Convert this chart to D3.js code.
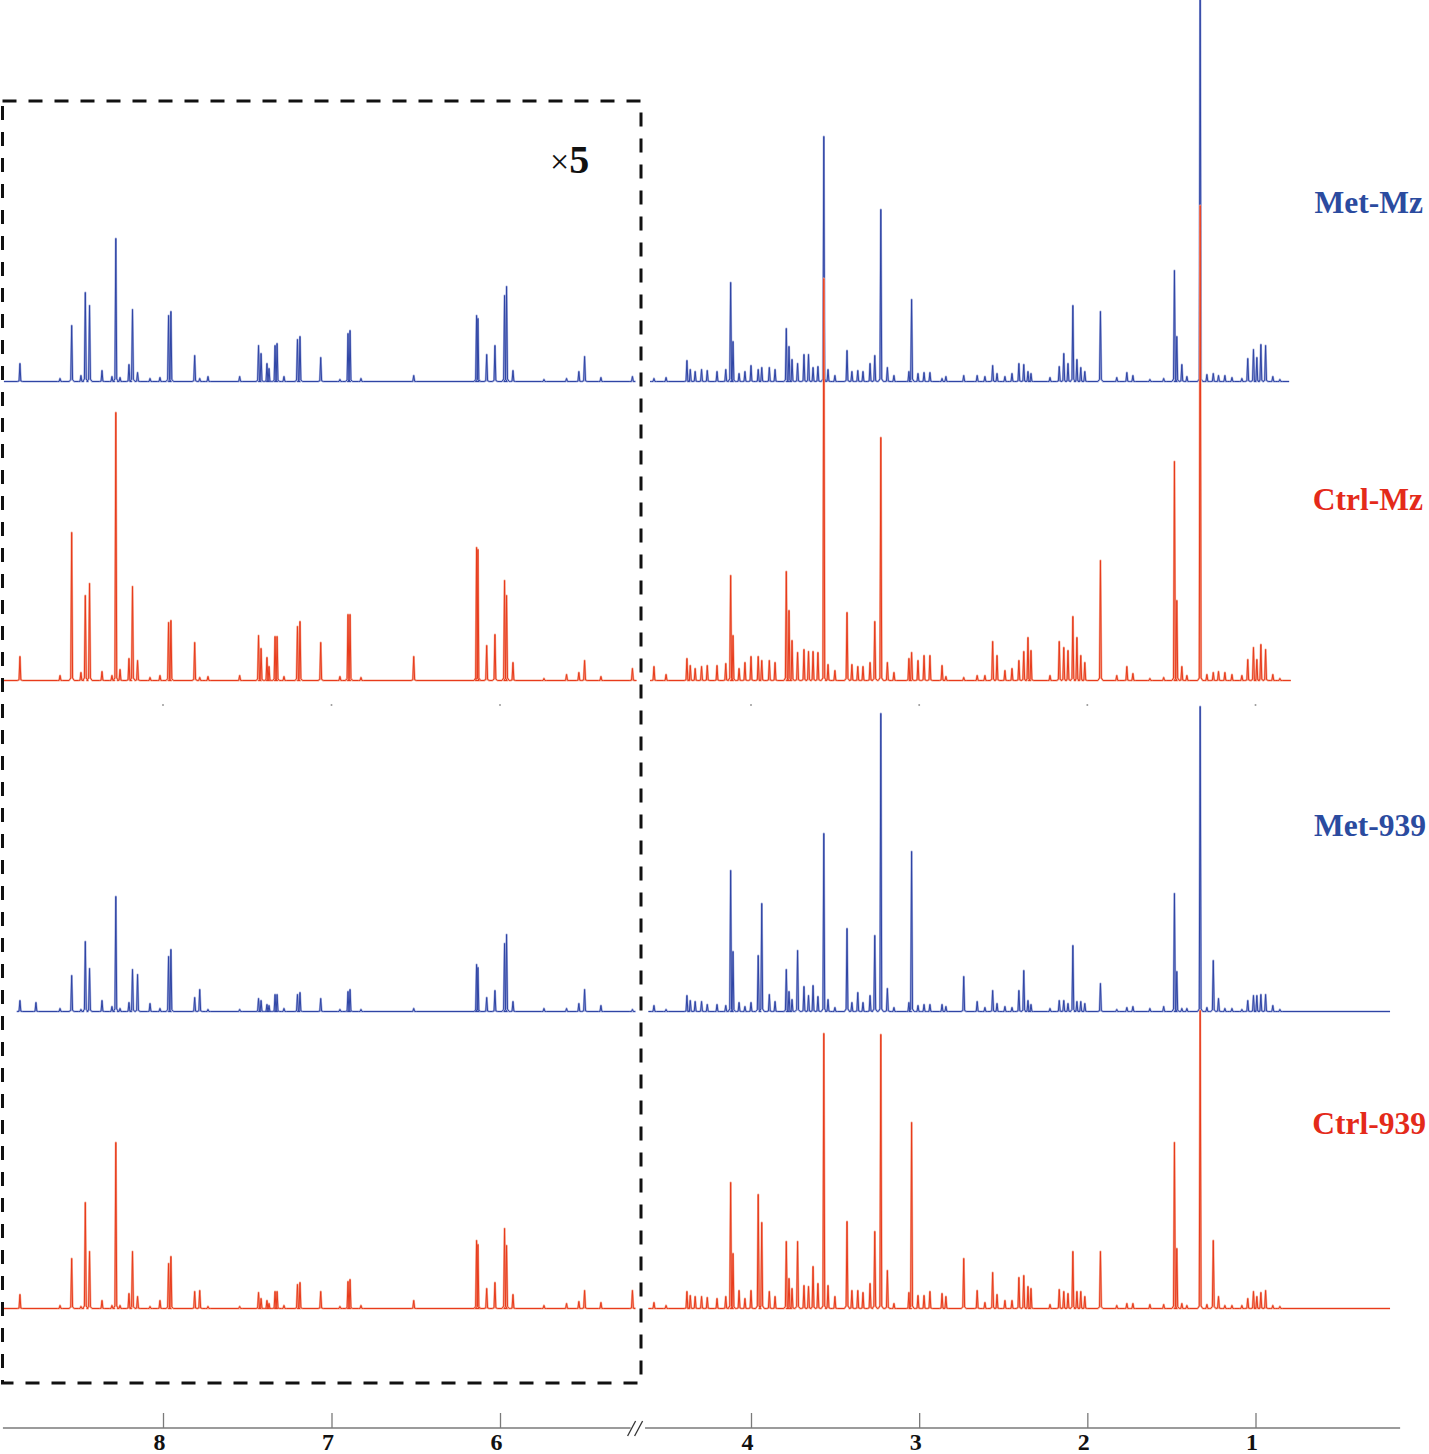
<!DOCTYPE html>
<html>
<head>
<meta charset="utf-8">
<script src="https://cdn.jsdelivr.net/npm/d3@7"></script>
<style>
  body { margin: 0; background: #fff; }
  text { font-family: "Liberation Serif", "Times New Roman", serif; font-weight: bold; }
</style>
</head>
<body>
<svg id="nmr" width="1429" height="1454"></svg>
<script>
// ---- data ----
// aromatic region (shown x5), peak positions in ppm
const leftPpm = [8.849, 8.754, 8.611, 8.542, 8.487, 8.461, 8.436, 8.362, 8.303, 8.280,
  8.255, 8.202, 8.181, 8.151, 8.077, 8.018, 7.967, 7.953, 7.812, 7.782,
  7.733, 7.545, 7.433, 7.418, 7.383, 7.371, 7.335, 7.323, 7.282, 7.202,
  7.187, 7.064, 6.950, 6.902, 6.890, 6.825, 6.512, 6.139, 6.131, 6.079,
  6.030, 5.973, 5.961, 5.923, 5.739, 5.605, 5.532, 5.498, 5.401, 5.214];
const metMzLeft = [18, 0, 3, 56, 6, 89, 76, 11, 5, 143,
  4, 17, 72, 9, 3, 4, 66, 70, 26, 3,
  5, 5, 36, 28, 18, 13, 36, 38, 5, 42,
  45, 24, 2, 48, 51, 3, 6, 66, 63, 27,
  36, 86, 95, 11, 2, 3, 10, 25, 4, 5];
const ctrlMzLeft = [24, 0, 5, 148, 8, 85, 97, 9, 5, 268,
  11, 22, 94, 20, 3, 5, 58, 60, 38, 3,
  4, 5, 45, 32, 23, 14, 44, 44, 4, 54,
  59, 38, 4, 66, 66, 3, 24, 133, 131, 35,
  46, 100, 85, 18, 2, 6, 8, 20, 4, 12];
const met939Left = [11, 9, 3, 36, 2, 70, 43, 11, 5, 115,
  3, 9, 42, 37, 8, 3, 55, 62, 14, 22,
  2, 2, 13, 11, 7, 6, 17, 17, 3, 17,
  19, 13, 2, 20, 22, 2, 3, 47, 44, 14,
  21, 68, 77, 10, 3, 3, 8, 22, 6, 2];
const ctrl939Left = [14, 0, 3, 50, 2, 106, 57, 8, 3, 166,
  3, 15, 57, 12, 2, 8, 45, 52, 17, 18,
  2, 2, 16, 10, 8, 5, 17, 17, 3, 24,
  26, 17, 2, 27, 29, 3, 8, 68, 64, 20,
  26, 80, 63, 14, 3, 5, 7, 18, 6, 18];

// aliphatic region, peak positions in ppm
const rightPpm = [4.577, 4.505, 4.381, 4.361, 4.332, 4.294, 4.260, 4.202, 4.150, 4.121,
  4.107, 4.071, 4.036, 4.000, 3.957, 3.936, 3.891, 3.857, 3.790, 3.774,
  3.756, 3.723, 3.685, 3.658, 3.631, 3.602, 3.567, 3.542, 3.501, 3.429,
  3.400, 3.365, 3.334, 3.292, 3.264, 3.228, 3.189, 3.150, 3.061, 3.045,
  3.007, 2.971, 2.936, 2.864, 2.841, 2.735, 2.655, 2.609, 2.563, 2.537,
  2.490, 2.448, 2.407, 2.378, 2.353, 2.335, 2.222, 2.167, 2.140, 2.115,
  2.086, 2.062, 2.039, 2.015, 1.922, 1.825, 1.765, 1.729, 1.628, 1.546,
  1.482, 1.468, 1.438, 1.408, 1.329, 1.289, 1.251, 1.220, 1.182, 1.140,
  1.081, 1.046, 1.012, 0.992, 0.968, 0.940, 0.897, 0.855];
const metMzRight = [3, 4, 21, 12, 10, 12, 11, 10, 12, 99,
  40, 8, 10, 16, 12, 14, 14, 12, 53, 35,
  22, 18, 27, 27, 14, 15, 245, 12, 6, 31,
  10, 11, 10, 18, 26, 172, 14, 6, 10, 82,
  8, 9, 9, 3, 5, 6, 6, 5, 16, 8,
  5, 8, 18, 17, 10, 8, 4, 15, 28, 18,
  76, 22, 14, 10, 70, 4, 9, 6, 2, 3,
  111, 45, 17, 5, 420, 7, 8, 6, 6, 4,
  3, 23, 32, 24, 37, 36, 5, 2];
const ctrlMzRight = [14, 6, 22, 15, 12, 14, 15, 15, 17, 105,
  45, 12, 18, 24, 24, 20, 20, 18, 109, 70,
  40, 28, 31, 29, 29, 28, 402, 16, 10, 68,
  16, 14, 14, 18, 59, 243, 18, 8, 22, 28,
  20, 25, 25, 15, 4, 3, 5, 5, 39, 25,
  10, 12, 20, 29, 43, 30, 5, 39, 33, 30,
  64, 43, 25, 18, 120, 5, 14, 7, 2, 3,
  219, 80, 14, 5, 475, 6, 8, 9, 8, 6,
  5, 21, 33, 21, 36, 31, 6, 2];
const met939Right = [6, 2, 16, 11, 10, 10, 7, 7, 6, 141,
  60, 9, 5, 9, 56, 108, 17, 10, 42, 20,
  12, 61, 25, 16, 26, 15, 178, 12, 4, 83,
  9, 19, 9, 16, 76, 298, 23, 4, 9, 160,
  6, 7, 7, 7, 5, 35, 10, 4, 21, 8,
  5, 4, 21, 41, 11, 7, 3, 11, 11, 8,
  66, 10, 10, 8, 28, 2, 4, 5, 3, 5,
  118, 40, 3, 3, 305, 4, 51, 13, 3, 3,
  2, 11, 16, 16, 17, 17, 6, 2];
const ctrl939Right = [6, 3, 17, 13, 12, 12, 11, 10, 12, 126,
  55, 18, 10, 18, 114, 86, 17, 12, 67, 30,
  20, 67, 23, 22, 42, 25, 275, 23, 12, 87,
  18, 18, 16, 25, 77, 274, 38, 5, 16, 186,
  13, 13, 17, 15, 12, 50, 18, 6, 36, 14,
  8, 8, 31, 33, 22, 20, 4, 19, 17, 15,
  57, 17, 17, 12, 57, 3, 5, 5, 4, 4,
  166, 60, 5, 3, 298, 4, 68, 12, 3, 3,
  3, 10, 17, 12, 16, 18, 3, 2];

const sampleNames = ["Met-Mz", "Ctrl-Mz", "Met-939", "Ctrl-939"];
// recorded spectral window of each trace (ppm)
const leftStart = [8.944, 8.944, 8.857, 8.944];
const leftEnd = [5.207, 5.190, 5.207, 5.207];
const rightStart = [4.60, 4.60, 4.61, 4.61];
const rightEnd = [0.80, 0.79, 0.20, 0.20];
const ticksLeft = [8, 7, 6];
const ticksRight = [4, 3, 2, 1];

// ---- layout ----
const svg = d3.select("svg#nmr");
const baselines = [381.5, 680.5, 1011.5, 1308.5];
const lineColors = ["#2f45a5", "#e83b1c", "#2f45a5", "#e83b1c"];
const haloColors = ["#aab3e0", "#f6ae98", "#aab3e0", "#f6ae98"];
const labelColors = ["#2b4b9f", "#e42a1a", "#2b4b9f", "#e42a1a"];
const labelY = [213, 510, 836, 1134];
const axisY = 1428;

//x scales, one per side of the axis break
const xLeft = d3.scaleLinear().domain([8, 6]).range([163, 500]);
const xRight = d3.scaleLinear().domain([4, 1]).range([751, 1255.5]);

const lineGen = d3.line();

// turns a peak table into a stick-like trace
const tracePoints = (ppm, vals, start, end, x, y) => {
  const pts = [[x(start), y(0)]];
  ppm.forEach((p, i) => {
    const h = vals[i];
    if (!h || p > start || p < end) return;
    const cx = x(p);
    const foot = Math.min(h * 0.03, 2.5);
    pts.push([cx - 2.6, y(0)], [cx - 0.9, y(foot)]);
    pts.push([cx, y(h)]);
    pts.push([cx + 0.9, y(foot)], [cx + 2.6, y(0)]);
  });
  pts.push([x(end), y(0)]);
  return pts;
};

const tables = [
  [metMzLeft, metMzRight],
  [ctrlMzLeft, ctrlMzRight],
  [met939Left, met939Right],
  [ctrl939Left, ctrl939Right]
];

const plot = svg.append("g");
tables.forEach((t, k) => {
  const yScale = d3.scaleLinear().domain([0, 100]).range([baselines[k], baselines[k] - 100]);
  const parts = [
    tracePoints(leftPpm, t[0], leftStart[k], leftEnd[k], xLeft, yScale),
    tracePoints(rightPpm, t[1], rightStart[k], rightEnd[k], xRight, yScale)
  ];
  parts.forEach(pts => {
    plot.append("path")
      .attr("d", lineGen(pts))
      .attr("fill", "none")
      .attr("stroke", haloColors[k])
      .attr("stroke-width", 2.2)
      .attr("stroke-linejoin", "round");
    plot.append("path")
      .attr("d", lineGen(pts))
      .attr("fill", "none")
      .attr("stroke", lineColors[k])
      .attr("stroke-width", 1)
      .attr("stroke-linejoin", "round");
  });
});

// sample labels
svg.selectAll("text.sample")
  .data(sampleNames)
  .enter()
  .append("text")
  .attr("class", "sample")
  .attr("x", (d, i) => 1423 + (i > 1 ? 3 : 0))
  .attr("y", (d, i) => labelY[i])
  .attr("text-anchor", "end")
  .attr("font-size", 31.5)
  .attr("fill", (d, i) => labelColors[i])
  .text(d => d);

// faint tick marks left between the two middle traces
svg.append("g")
  .selectAll("circle")
  .data(ticksLeft.map(t => xLeft(t)).concat(ticksRight.map(t => xRight(t))))
  .enter()
  .append("circle")
  .attr("cx", d => d)
  .attr("cy", 705)
  .attr("r", 1)
  .attr("fill", "#9a9a9a");

// dashed box around the magnified part
svg.append("rect")
  .attr("x", 2.5)
  .attr("y", 101)
  .attr("width", 638.5)
  .attr("height", 1282)
  .attr("fill", "none")
  .attr("stroke", "#111")
  .attr("stroke-width", 3)
  .attr("stroke-dasharray", "14 12");

const mag = svg.append("text")
  .attr("x", 550)
  .attr("y", 173)
  .attr("font-size", 40)
  .attr("fill", "#111");
mag.append("tspan").attr("font-weight", "normal").attr("font-size", 34).text("×");
mag.append("tspan").text("5");

// axis
const axisColor = "#7a7a7a";
const axisG = svg.append("g").attr("transform", `translate(0, ${axisY})`);

[[xLeft, ticksLeft], [xRight, ticksRight]].forEach(([sc, tv]) => {
  const g = axisG.append("g")
    .call(d3.axisBottom(sc).tickValues(tv).tickSizeInner(-15).tickSizeOuter(0)
      .tickPadding(5).tickFormat(d3.format("d")));
  g.select(".domain").remove();
  g.selectAll(".tick line").attr("stroke", axisColor).attr("stroke-width", 1.3);
  g.selectAll(".tick text")
    .attr("dx", -4)
    .attr("fill", "#111")
    .attr("font-size", 24)
    .attr("font-family", "Liberation Serif, Times New Roman, serif")
    .attr("font-weight", "bold");
});

const leftEndX = xLeft(5.225);
const rightStartX = xRight(4.63);
axisG.append("line")
  .attr("x1", xLeft(8.95)).attr("x2", leftEndX)
  .attr("stroke", axisColor).attr("stroke-width", 1.6);
axisG.append("line")
  .attr("x1", rightStartX).attr("x2", xRight(0.14))
  .attr("stroke", axisColor).attr("stroke-width", 1.6);

// break marks "//"
[0, 7].forEach(off => {
  axisG.append("line")
    .attr("x1", leftEndX - 3 + off).attr("y1", 8)
    .attr("x2", leftEndX + 5 + off).attr("y2", -7)
    .attr("stroke", "#333").attr("stroke-width", 1.3);
});
</script>
</body>
</html>
